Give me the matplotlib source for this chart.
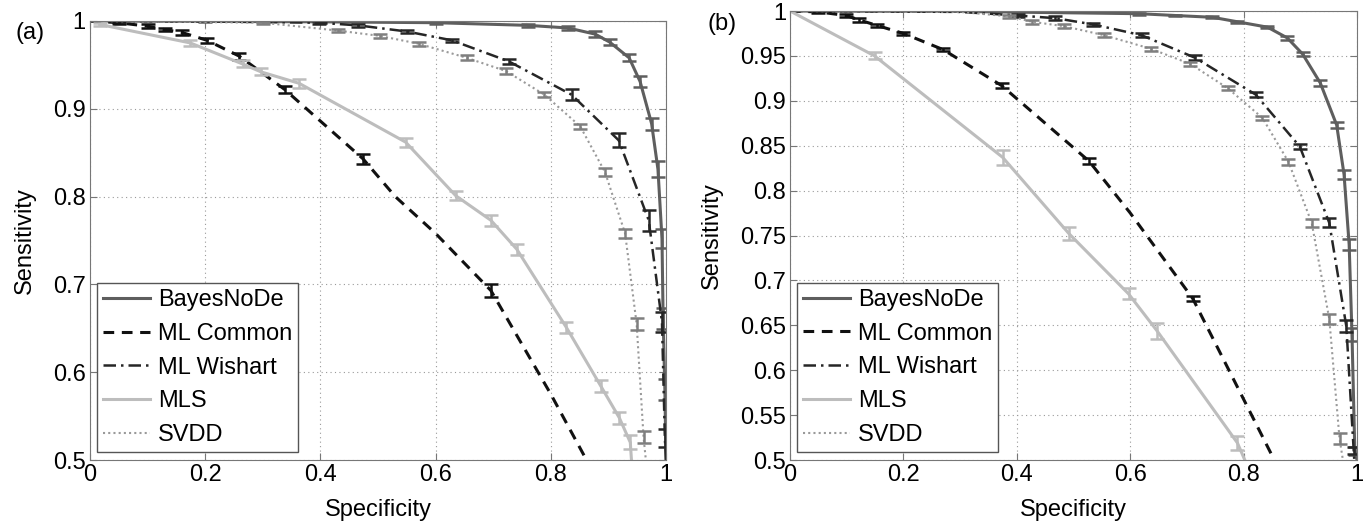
import numpy as np
import matplotlib.pyplot as plt

plt.rcParams['font.family'] = ['Liberation Sans', 'DejaVu Sans']

# ---- panel (a) ----
a_bayes_x = [0.0, 0.2, 0.4, 0.6, 0.76, 0.83, 0.877, 0.902, 0.936, 0.955, 0.975, 0.986, 0.993, 0.995, 0.998, 1.0]
a_bayes_y = [1.0, 0.9995, 0.999, 0.998, 0.995, 0.992, 0.985, 0.976, 0.958, 0.931, 0.883, 0.831, 0.752, 0.661, 0.58, 0.5]
a_bayes_e = [0, 0.001, 0.001, 0.001, 0.002, 0.002, 0.003, 0.003, 0.004, 0.006, 0.007, 0.009, 0.011, 0.012, 0.012, 0]

a_common_x = [0.0, 0.05, 0.1, 0.13, 0.159, 0.203, 0.259, 0.338, 0.474, 0.53, 0.6, 0.696, 0.8, 0.862]
a_common_y = [1.0, 0.998, 0.994, 0.99, 0.987, 0.978, 0.96, 0.922, 0.843, 0.8, 0.758, 0.693, 0.575, 0.5]
a_common_e = [0, 0.001, 0.002, 0.002, 0.003, 0.003, 0.004, 0.004, 0.006, 0, 0, 0.007, 0, 0]

a_wish_x = [0.0, 0.2, 0.397, 0.465, 0.55, 0.628, 0.727, 0.836, 0.918, 0.97, 0.993, 0.998, 1.0]
a_wish_y = [1.0, 0.9995, 0.998, 0.995, 0.988, 0.978, 0.954, 0.916, 0.864, 0.773, 0.657, 0.525, 0.5]
a_wish_e = [0, 0, 0.002, 0.002, 0.002, 0.002, 0.003, 0.006, 0.008, 0.012, 0.011, 0.01, 0]

a_mls_x = [0.017, 0.174, 0.265, 0.297, 0.363, 0.548, 0.635, 0.696, 0.741, 0.827, 0.887, 0.919, 0.938, 0.94]
a_mls_y = [0.996, 0.975, 0.951, 0.942, 0.929, 0.862, 0.801, 0.773, 0.74, 0.651, 0.584, 0.548, 0.52, 0.5]
a_mls_e = [0.002, 0.003, 0.004, 0.004, 0.005, 0.005, 0.005, 0.006, 0.006, 0.006, 0.007, 0.007, 0.008, 0]

a_svdd_x = [0.0, 0.3, 0.431, 0.503, 0.571, 0.654, 0.722, 0.789, 0.851, 0.894, 0.929, 0.949, 0.961, 0.965]
a_svdd_y = [1.0, 0.998, 0.989, 0.983, 0.974, 0.958, 0.943, 0.916, 0.88, 0.828, 0.758, 0.655, 0.526, 0.5]
a_svdd_e = [0, 0.001, 0.002, 0.002, 0.002, 0.003, 0.003, 0.003, 0.003, 0.004, 0.005, 0.007, 0.007, 0]

# ---- panel (b) ----
b_bayes_x = [0.0, 0.3, 0.616, 0.679, 0.745, 0.789, 0.842, 0.877, 0.904, 0.935, 0.964, 0.977, 0.986, 0.991, 0.996, 1.0]
b_bayes_y = [1.0, 0.9995, 0.997, 0.995, 0.993, 0.988, 0.982, 0.97, 0.952, 0.92, 0.873, 0.818, 0.74, 0.64, 0.51, 0.5]
b_bayes_e = [0, 0, 0.001, 0.001, 0.001, 0.001, 0.001, 0.002, 0.002, 0.003, 0.003, 0.005, 0.006, 0.007, 0.004, 0]

b_common_x = [0.0, 0.05, 0.099, 0.122, 0.153, 0.2, 0.27, 0.373, 0.527, 0.6, 0.71, 0.854]
b_common_y = [1.0, 0.999, 0.995, 0.99, 0.984, 0.975, 0.957, 0.917, 0.833, 0.775, 0.68, 0.5]
b_common_e = [0, 0.001, 0.002, 0.002, 0.002, 0.002, 0.002, 0.003, 0.003, 0, 0.003, 0]

b_wish_x = [0.0, 0.3, 0.402, 0.468, 0.535, 0.62, 0.714, 0.821, 0.899, 0.951, 0.981, 0.994, 0.995]
b_wish_y = [1.0, 0.999, 0.995, 0.992, 0.985, 0.973, 0.948, 0.907, 0.849, 0.764, 0.649, 0.511, 0.5]
b_wish_e = [0, 0, 0.002, 0.002, 0.002, 0.002, 0.003, 0.003, 0.003, 0.005, 0.007, 0.004, 0]

b_mls_x = [0.0, 0.149, 0.375, 0.492, 0.597, 0.647, 0.789, 0.802]
b_mls_y = [1.0, 0.95, 0.837, 0.752, 0.685, 0.644, 0.519, 0.5]
b_mls_e = [0, 0.004, 0.008, 0.007, 0.006, 0.009, 0.008, 0]

b_svdd_x = [0.0, 0.3, 0.387, 0.427, 0.484, 0.554, 0.636, 0.706, 0.772, 0.833, 0.879, 0.92, 0.951, 0.969, 0.975]
b_svdd_y = [1.0, 0.999, 0.994, 0.988, 0.983, 0.973, 0.958, 0.941, 0.914, 0.881, 0.832, 0.764, 0.657, 0.524, 0.5]
b_svdd_e = [0, 0, 0.002, 0.002, 0.002, 0.002, 0.002, 0.002, 0.002, 0.002, 0.003, 0.004, 0.006, 0.006, 0]

nombres = ['BayesNoDe', 'ML Common', 'ML Wishart', 'MLS', 'SVDD']
estilos = [
    dict(color='#5e5e5e', ls='-', lw=2.2, ecolor='#5e5e5e'),
    dict(color='#111111', ls=(0, (3.5, 2.5)), lw=2.2, ecolor='#111111'),
    dict(color='#262626', ls=(0, (5, 2, 1, 2)), lw=1.8, ecolor='#262626'),
    dict(color='#bdbdbd', ls='-', lw=2.2, ecolor='#bdbdbd'),
    dict(color='#9a9a9a', ls=(0, (1, 1.5)), lw=1.5, ecolor='#7f7f7f'),
]

fs = 17

fig = plt.figure(figsize=(13.69, 5.29), dpi=100)
ax_a = fig.add_axes([0.0657, 0.1304, 0.4208, 0.830])
ax_b = fig.add_axes([0.5771, 0.1304, 0.4142, 0.8488])


def dibujar(ax, curvas, yticks):
    for (xs, ys, es), nombre, st in zip(curvas, nombres, estilos):
        ax.plot(xs, ys, color=st['color'], ls=st['ls'], lw=st['lw'], label=nombre)
        xs = np.array(xs); ys = np.array(ys); es = np.array(es)
        m = es > 0
        ax.errorbar(xs[m], ys[m], yerr=es[m], fmt='none', ecolor=st['ecolor'],
                    elinewidth=1.8, capsize=5, capthick=1.8)
    ax.set_xlim(0, 1)
    ax.set_ylim(0.5, 1)
    ax.set_xticks([0, 0.2, 0.4, 0.6, 0.8, 1])
    ax.set_xticklabels(['0', '0.2', '0.4', '0.6', '0.8', '1'])
    ax.set_yticks(yticks)
    ax.set_yticklabels([('%g' % t) for t in yticks])
    ax.grid(True, ls=(0, (1, 3)), color='#999999', lw=0.8)
    ax.tick_params(direction='in', top=True, right=True, labelsize=fs,
                   color='#777777', length=5, pad=3)
    for s in ax.spines.values():
        s.set_color('#777777')
    ax.set_xlabel('Specificity', fontsize=fs, labelpad=9)
    ax.set_ylabel('Sensitivity', fontsize=fs, labelpad=12)
    leg = ax.legend(loc='lower left', bbox_to_anchor=(0.012, 0.018), fontsize=fs,
                    fancybox=False, framealpha=1, edgecolor='#555555',
                    handlelength=2.0, handletextpad=0.35, labelspacing=0.5,
                    borderpad=0.25, borderaxespad=0)
    leg.get_frame().set_linewidth(1.0)


dibujar(ax_a, [(a_bayes_x, a_bayes_y, a_bayes_e), (a_common_x, a_common_y, a_common_e),
               (a_wish_x, a_wish_y, a_wish_e), (a_mls_x, a_mls_y, a_mls_e),
               (a_svdd_x, a_svdd_y, a_svdd_e)], np.arange(0.5, 1.01, 0.1).round(2))
dibujar(ax_b, [(b_bayes_x, b_bayes_y, b_bayes_e), (b_common_x, b_common_y, b_common_e),
               (b_wish_x, b_wish_y, b_wish_e), (b_mls_x, b_mls_y, b_mls_e),
               (b_svdd_x, b_svdd_y, b_svdd_e)], np.arange(0.5, 1.01, 0.05).round(2))

fig.text(0.011, 0.938, '(a)', fontsize=fs, va='center')
fig.text(0.517, 0.955, '(b)', fontsize=fs, va='center')

fig.savefig('out.png', dpi=100)
